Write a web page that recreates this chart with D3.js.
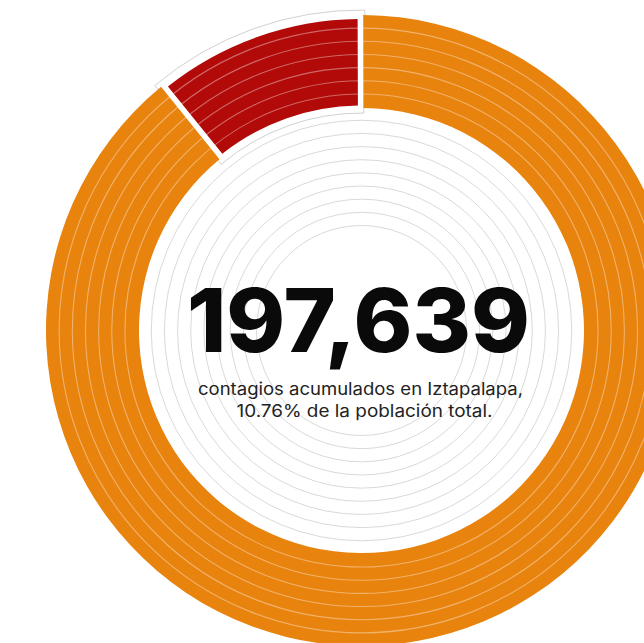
<!DOCTYPE html>
<html><head><meta charset="utf-8">
<script src="https://cdn.jsdelivr.net/npm/d3@7"></script>
<style>html,body{margin:0;padding:0;background:#fff;}svg{display:block}</style>
</head><body>
<svg id="c" width="644" height="643"></svg>
<script>
// ---- data ----
const categories = ["Contagios acumulados", "Resto de la población"];
const values = [10.76, 89.24];
const colors = ["#B10A08", "#E8830E"];
const totalLabel = "197,639";
const subtitleLines = ["contagios acumulados en Iztapalapa,", "10.76% de la población total."];
const gridRings = [0, 1, 2, 3, 4, 5, 6, 7, 8];          // grey rings inside
const bandRings = [10, 11, 12, 13, 14, 15];             // light rings over the donut

// ---- layout ----
const cx = 361.5, cy = 330.5;
const deg = Math.PI / 180;
const svg = d3.select("#c");
svg.append("rect").attr("width", 644).attr("height", 643).attr("fill", "#fff");
const g = svg.append("g").attr("transform", `translate(${cx},${cy})`);

const rScale = d3.scaleLinear().domain([0, 16]).range([105, 315.5]);

// grey concentric rings
g.selectAll("circle.grid").data(gridRings).join("circle")
  .attr("class", "grid").attr("r", d => rScale(d))
  .attr("fill", "none").attr("stroke", "#cfcfcf").attr("stroke-width", 0.8);

// outline around highlighted slice
const share = values[0] / d3.sum(values);
const offset = -0.2 * deg;
g.append("path")
  .attr("d", d3.arc()({innerRadius: 217.5, outerRadius: 320.5,
      startAngle: -share * 2 * Math.PI - 1.2 * deg + offset, endAngle: 0.6 * deg}))
  .attr("fill", "#fff").attr("stroke", "#c4c4c4").attr("stroke-width", 0.8);

const pie = d3.pie().sort(null).value(d => d.v)
  .startAngle(-share * 2 * Math.PI + offset)
  .endAngle(2 * Math.PI - share * 2 * Math.PI + offset);
const slices = pie(categories.map((c, i) => ({c, v: values[i], color: colors[i]})));

const radii = [{inner: 225, outer: 311.5}, {inner: 222.5, outer: 315.5}];
g.selectAll("path.slice").data(slices).join("path")
  .attr("class", "slice")
  .attr("d", (d, i) => d3.arc().innerRadius(radii[i].inner).outerRadius(radii[i].outer)
      .padRadius(300).padAngle(5.6 / 300)(d))
  .attr("fill", d => d.data.color);

// light rings over donut
g.selectAll("circle.band").data(bandRings).join("circle")
  .attr("class", "band").attr("r", d => rScale(d))
  .attr("fill", "none").attr("stroke", "#fff").attr("stroke-opacity", 0.38).attr("stroke-width", 1.1);

// texts
svg.append("text").attr("x", 358.5).attr("y", 352)
  .attr("text-anchor", "middle")
  .attr("font-family", "Inter, 'Open Sans', sans-serif").attr("font-weight", 800)
  .attr("font-size", 88).attr("fill", "#0a0a0a")
  .attr("textLength", 343).attr("lengthAdjust", "spacingAndGlyphs")
  .text(totalLabel);

const subX = [360.5, 364.5], subY = [395, 417], subW = [325, 256];
svg.selectAll("text.sub").data(subtitleLines).join("text")
  .attr("class", "sub")
  .attr("x", (d, i) => subX[i]).attr("y", (d, i) => subY[i])
  .attr("text-anchor", "middle")
  .attr("font-family", "Inter, 'Open Sans', sans-serif").attr("font-weight", 400)
  .attr("font-size", 17).attr("fill", "#222")
  .attr("textLength", (d, i) => subW[i]).attr("lengthAdjust", "spacingAndGlyphs")
  .text(d => d);
</script>
</body></html>
